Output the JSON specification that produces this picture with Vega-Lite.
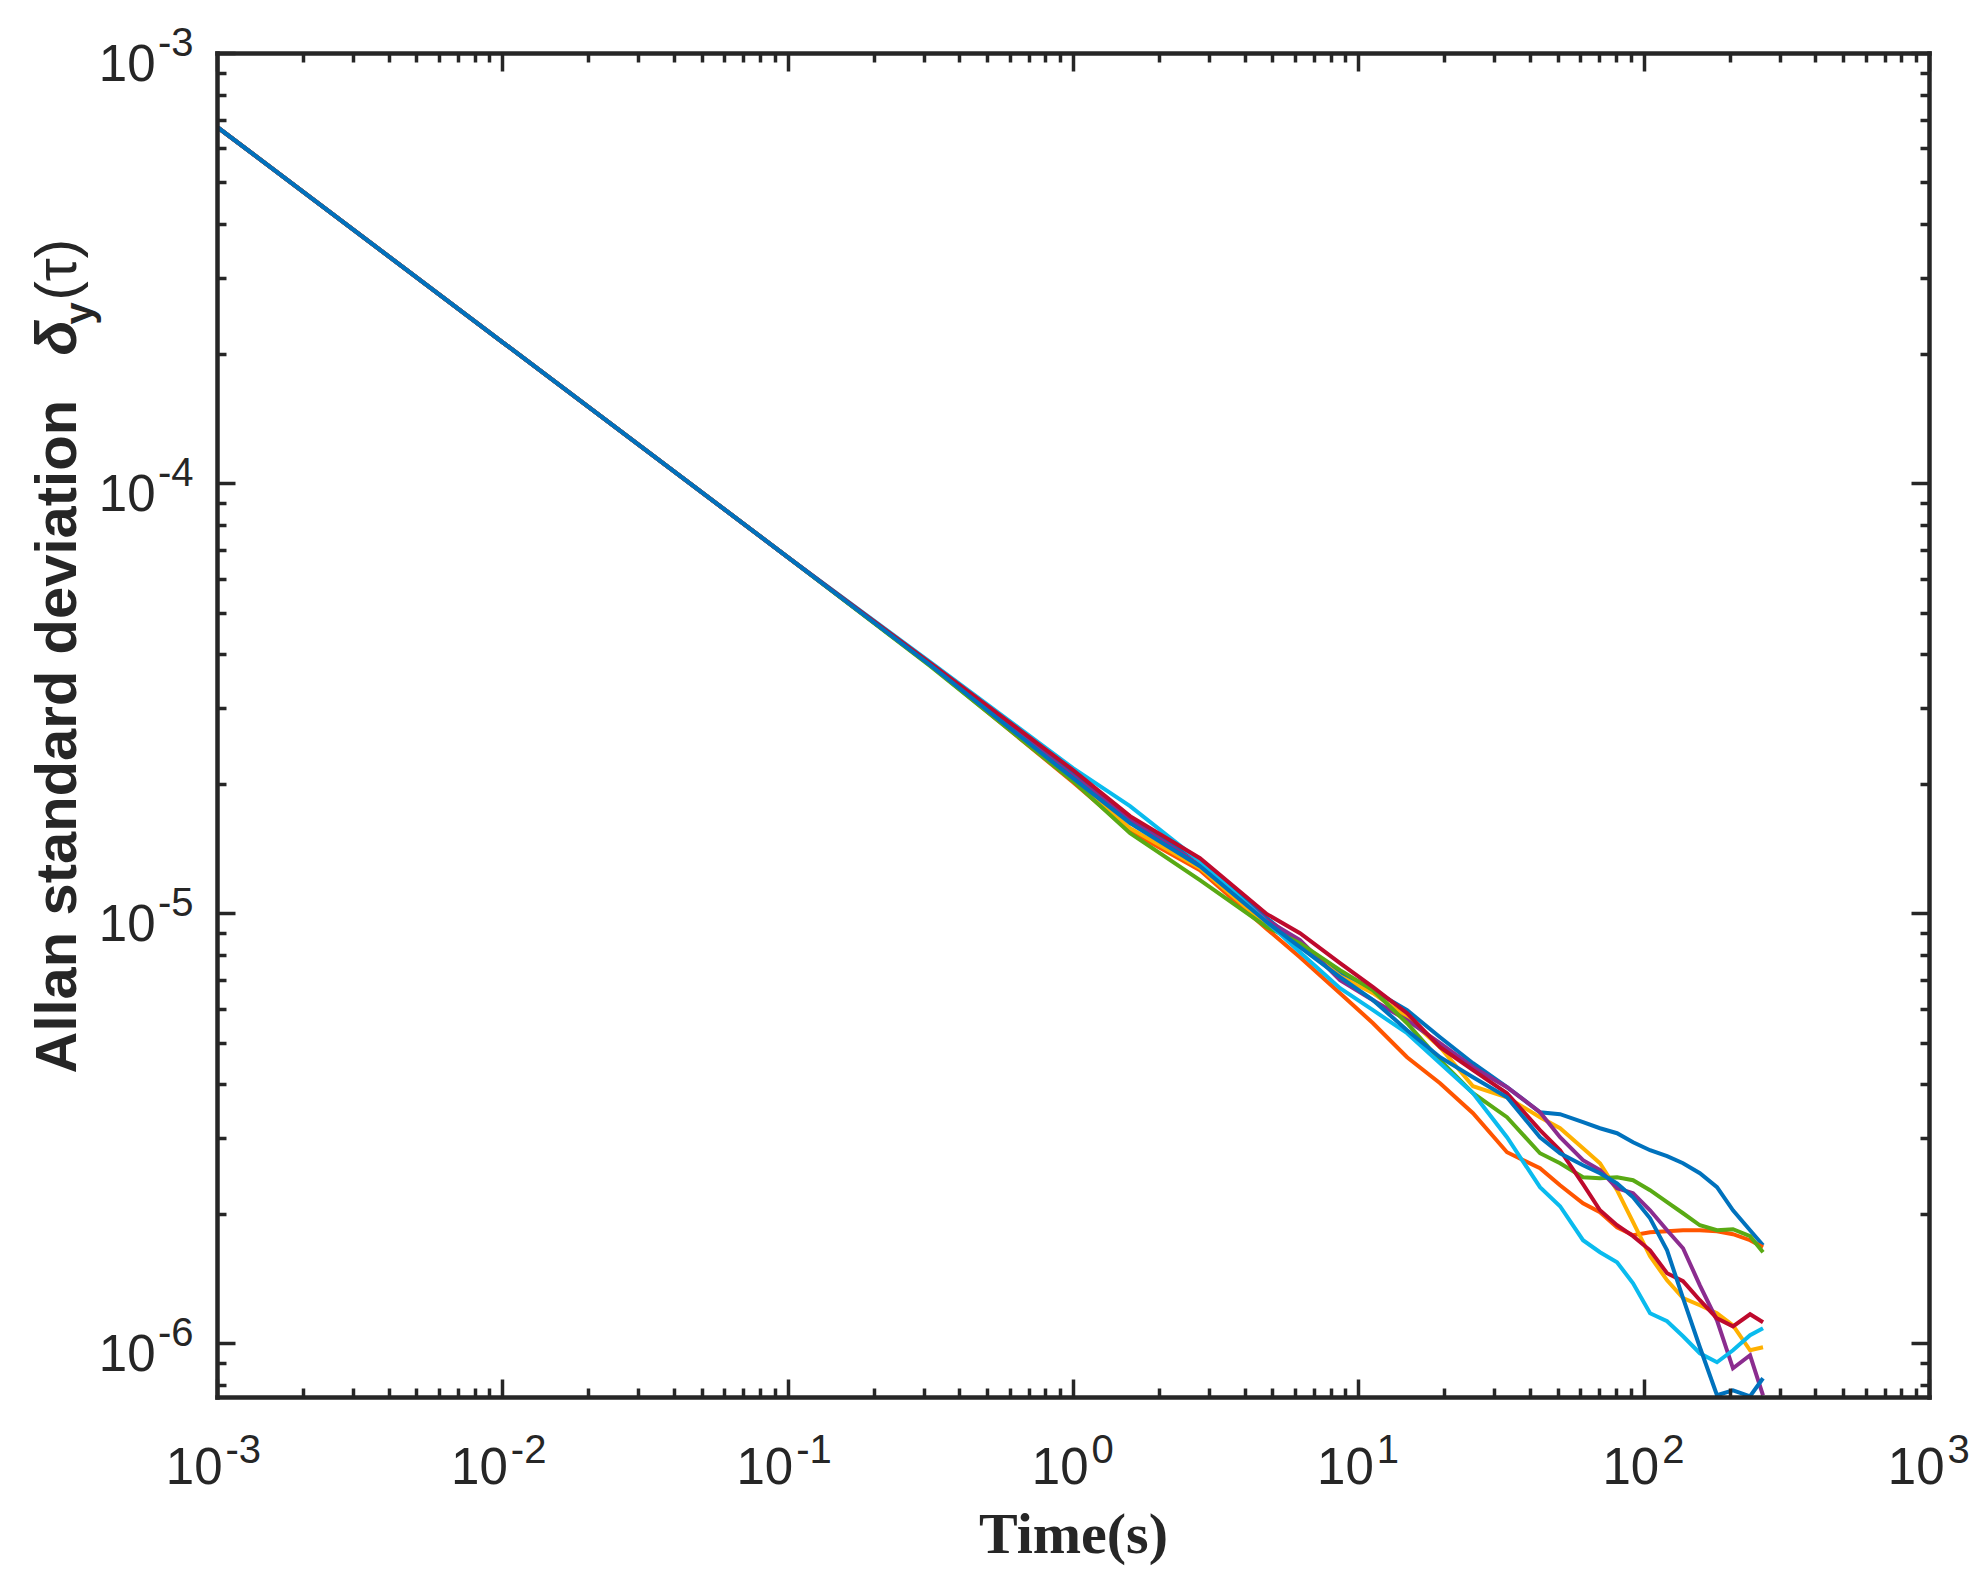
{
  "$schema": "https://vega.github.io/schema/vega-lite/v6.json",
  "description": "Allan standard deviation versus averaging time, eight runs.",
  "autosize": {"type": "none"},
  "padding": {"left": 217, "top": 53, "right": 58, "bottom": 194},
  "width": 1712,
  "height": 1344,
  "background": "white",
  "resolve": {"axis": {"x": "independent", "y": "independent"}},
  "layer": [
    {
      "data": {"values": [
        {"s":"s1","t":0.001,"v":6.73e-4},{"s":"s1","t":0.01,"v":2.128e-4},{"s":"s1","t":0.1,"v":6.73e-5},{"s":"s1","t":0.3162,"v":3.774e-5},{"s":"s1","t":1,"v":2.105e-5},{"s":"s1","t":1.585,"v":1.654e-5},{"s":"s1","t":2.786,"v":1.328e-5},{"s":"s1","t":4.786,"v":9.736e-6},{"s":"s1","t":6.246,"v":8.425e-6},{"s":"s1","t":8.627,"v":7.291e-6},{"s":"s1","t":11.26,"v":6.621e-6},{"s":"s1","t":14.82,"v":5.949e-6},{"s":"s1","t":19.34,"v":5.148e-6},{"s":"s1","t":25.23,"v":4.479e-6},{"s":"s1","t":33.19,"v":3.939e-6},{"s":"s1","t":43.32,"v":3.445e-6},{"s":"s1","t":50.93,"v":3.409e-6},{"s":"s1","t":61.3,"v":3.266e-6},{"s":"s1","t":70.3,"v":3.162e-6},{"s":"s1","t":80.66,"v":3.079e-6},{"s":"s1","t":91.8,"v":2.934e-6},{"s":"s1","t":105.3,"v":2.811e-6},{"s":"s1","t":120.8,"v":2.722e-6},{"s":"s1","t":137.4,"v":2.622e-6},{"s":"s1","t":157.4,"v":2.485e-6},{"s":"s1","t":180.7,"v":2.306e-6},{"s":"s1","t":205.6,"v":2.038e-6},{"s":"s1","t":236,"v":1.832e-6},{"s":"s1","t":262,"v":1.69e-6},
        {"s":"s2","t":0.001,"v":6.73e-4},{"s":"s2","t":0.01,"v":2.128e-4},{"s":"s2","t":0.1,"v":6.73e-5},{"s":"s2","t":0.3162,"v":3.774e-5},{"s":"s2","t":1,"v":2.017e-5},{"s":"s2","t":1.585,"v":1.551e-5},{"s":"s2","t":2.786,"v":1.259e-5},{"s":"s2","t":4.786,"v":9.18e-6},{"s":"s2","t":6.246,"v":7.901e-6},{"s":"s2","t":8.627,"v":6.515e-6},{"s":"s2","t":11.26,"v":5.548e-6},{"s":"s2","t":14.82,"v":4.625e-6},{"s":"s2","t":19.34,"v":4.024e-6},{"s":"s2","t":25.23,"v":3.427e-6},{"s":"s2","t":33.19,"v":2.781e-6},{"s":"s2","t":43.32,"v":2.553e-6},{"s":"s2","t":50.93,"v":2.33e-6},{"s":"s2","t":61.3,"v":2.116e-6},{"s":"s2","t":70.3,"v":2.017e-6},{"s":"s2","t":80.66,"v":1.861e-6},{"s":"s2","t":91.8,"v":1.783e-6},{"s":"s2","t":105.3,"v":1.812e-6},{"s":"s2","t":120.8,"v":1.822e-6},{"s":"s2","t":137.4,"v":1.832e-6},{"s":"s2","t":157.4,"v":1.832e-6},{"s":"s2","t":180.7,"v":1.822e-6},{"s":"s2","t":205.6,"v":1.793e-6},{"s":"s2","t":236,"v":1.736e-6},{"s":"s2","t":262,"v":1.672e-6},
        {"s":"s3","t":0.001,"v":6.73e-4},{"s":"s3","t":0.01,"v":2.128e-4},{"s":"s3","t":0.1,"v":6.73e-5},{"s":"s3","t":0.3162,"v":3.794e-5},{"s":"s3","t":1,"v":2.049e-5},{"s":"s3","t":1.585,"v":1.576e-5},{"s":"s3","t":2.786,"v":1.273e-5},{"s":"s3","t":4.786,"v":9.378e-6},{"s":"s3","t":6.246,"v":8.425e-6},{"s":"s3","t":8.627,"v":7.137e-6},{"s":"s3","t":11.26,"v":6.515e-6},{"s":"s3","t":14.82,"v":5.73e-6},{"s":"s3","t":19.34,"v":4.879e-6},{"s":"s3","t":25.23,"v":3.96e-6},{"s":"s3","t":33.19,"v":3.733e-6},{"s":"s3","t":43.32,"v":3.354e-6},{"s":"s3","t":50.93,"v":3.162e-6},{"s":"s3","t":61.3,"v":2.841e-6},{"s":"s3","t":70.3,"v":2.622e-6},{"s":"s3","t":80.66,"v":2.269e-6},{"s":"s3","t":91.8,"v":1.912e-6},{"s":"s3","t":105.3,"v":1.593e-6},{"s":"s3","t":120.8,"v":1.401e-6},{"s":"s3","t":137.4,"v":1.273e-6},{"s":"s3","t":157.4,"v":1.226e-6},{"s":"s3","t":180.7,"v":1.174e-6},{"s":"s3","t":205.6,"v":1.101e-6},{"s":"s3","t":236,"v":9.632e-7},{"s":"s3","t":262,"v":9.788e-7},
        {"s":"s4","t":0.001,"v":6.73e-4},{"s":"s4","t":0.01,"v":2.128e-4},{"s":"s4","t":0.1,"v":6.73e-5},{"s":"s4","t":0.3162,"v":3.774e-5},{"s":"s4","t":1,"v":2.083e-5},{"s":"s4","t":1.585,"v":1.645e-5},{"s":"s4","t":2.786,"v":1.293e-5},{"s":"s4","t":4.786,"v":9.632e-6},{"s":"s4","t":6.246,"v":8.654e-6},{"s":"s4","t":8.627,"v":6.985e-6},{"s":"s4","t":11.26,"v":6.276e-6},{"s":"s4","t":14.82,"v":5.638e-6},{"s":"s4","t":19.34,"v":4.985e-6},{"s":"s4","t":25.23,"v":4.384e-6},{"s":"s4","t":33.19,"v":3.939e-6},{"s":"s4","t":43.32,"v":3.445e-6},{"s":"s4","t":50.93,"v":3.013e-6},{"s":"s4","t":61.3,"v":2.664e-6},{"s":"s4","t":70.3,"v":2.526e-6},{"s":"s4","t":80.66,"v":2.294e-6},{"s":"s4","t":91.8,"v":2.233e-6},{"s":"s4","t":105.3,"v":2.038e-6},{"s":"s4","t":120.8,"v":1.832e-6},{"s":"s4","t":137.4,"v":1.663e-6},{"s":"s4","t":157.4,"v":1.364e-6},{"s":"s4","t":180.7,"v":1.131e-6},{"s":"s4","t":205.6,"v":8.745e-7},{"s":"s4","t":236,"v":9.378e-7},{"s":"s4","t":262,"v":7.57e-7},
        {"s":"s5","t":0.001,"v":6.73e-4},{"s":"s5","t":0.01,"v":2.128e-4},{"s":"s5","t":0.1,"v":6.73e-5},{"s":"s5","t":0.3162,"v":3.754e-5},{"s":"s5","t":1,"v":2.028e-5},{"s":"s5","t":1.585,"v":1.535e-5},{"s":"s5","t":2.786,"v":1.193e-5},{"s":"s5","t":4.786,"v":9.278e-6},{"s":"s5","t":6.246,"v":8.516e-6},{"s":"s5","t":8.627,"v":7.37e-6},{"s":"s5","t":11.26,"v":6.621e-6},{"s":"s5","t":14.82,"v":5.548e-6},{"s":"s5","t":19.34,"v":4.551e-6},{"s":"s5","t":25.23,"v":3.814e-6},{"s":"s5","t":33.19,"v":3.354e-6},{"s":"s5","t":43.32,"v":2.766e-6},{"s":"s5","t":50.93,"v":2.622e-6},{"s":"s5","t":61.3,"v":2.433e-6},{"s":"s5","t":70.3,"v":2.42e-6},{"s":"s5","t":80.66,"v":2.433e-6},{"s":"s5","t":91.8,"v":2.394e-6},{"s":"s5","t":105.3,"v":2.269e-6},{"s":"s5","t":120.8,"v":2.128e-6},{"s":"s5","t":137.4,"v":2.006e-6},{"s":"s5","t":157.4,"v":1.881e-6},{"s":"s5","t":180.7,"v":1.832e-6},{"s":"s5","t":205.6,"v":1.841e-6},{"s":"s5","t":236,"v":1.774e-6},{"s":"s5","t":262,"v":1.628e-6},
        {"s":"s6","t":0.001,"v":6.73e-4},{"s":"s6","t":0.01,"v":2.128e-4},{"s":"s6","t":0.1,"v":6.73e-5},{"s":"s6","t":0.3162,"v":3.834e-5},{"s":"s6","t":1,"v":2.174e-5},{"s":"s6","t":1.585,"v":1.774e-5},{"s":"s6","t":2.786,"v":1.321e-5},{"s":"s6","t":4.786,"v":9.53e-6},{"s":"s6","t":6.246,"v":8.115e-6},{"s":"s6","t":8.627,"v":6.692e-6},{"s":"s6","t":11.26,"v":5.949e-6},{"s":"s6","t":14.82,"v":5.259e-6},{"s":"s6","t":19.34,"v":4.479e-6},{"s":"s6","t":25.23,"v":3.814e-6},{"s":"s6","t":33.19,"v":3.013e-6},{"s":"s6","t":43.32,"v":2.306e-6},{"s":"s6","t":50.93,"v":2.083e-6},{"s":"s6","t":61.3,"v":1.736e-6},{"s":"s6","t":70.3,"v":1.628e-6},{"s":"s6","t":80.66,"v":1.543e-6},{"s":"s6","t":91.8,"v":1.379e-6},{"s":"s6","t":105.3,"v":1.174e-6},{"s":"s6","t":120.8,"v":1.125e-6},{"s":"s6","t":137.4,"v":1.038e-6},{"s":"s6","t":157.4,"v":9.479e-7},{"s":"s6","t":180.7,"v":9.033e-7},{"s":"s6","t":205.6,"v":9.632e-7},{"s":"s6","t":236,"v":1.044e-6},{"s":"s6","t":262,"v":1.084e-6},
        {"s":"s7","t":0.001,"v":6.73e-4},{"s":"s7","t":0.01,"v":2.128e-4},{"s":"s7","t":0.1,"v":6.73e-5},{"s":"s7","t":0.3162,"v":3.814e-5},{"s":"s7","t":1,"v":2.151e-5},{"s":"s7","t":1.585,"v":1.681e-5},{"s":"s7","t":2.786,"v":1.342e-5},{"s":"s7","t":4.786,"v":9.947e-6},{"s":"s7","t":6.246,"v":8.985e-6},{"s":"s7","t":8.627,"v":7.651e-6},{"s":"s7","t":11.26,"v":6.728e-6},{"s":"s7","t":14.82,"v":5.854e-6},{"s":"s7","t":19.34,"v":4.879e-6},{"s":"s7","t":25.23,"v":4.314e-6},{"s":"s7","t":33.19,"v":3.814e-6},{"s":"s7","t":43.32,"v":3.129e-6},{"s":"s7","t":50.93,"v":2.811e-6},{"s":"s7","t":61.3,"v":2.343e-6},{"s":"s7","t":70.3,"v":2.038e-6},{"s":"s7","t":80.66,"v":1.881e-6},{"s":"s7","t":91.8,"v":1.774e-6},{"s":"s7","t":105.3,"v":1.645e-6},{"s":"s7","t":120.8,"v":1.455e-6},{"s":"s7","t":137.4,"v":1.394e-6},{"s":"s7","t":157.4,"v":1.259e-6},{"s":"s7","t":180.7,"v":1.143e-6},{"s":"s7","t":205.6,"v":1.095e-6},{"s":"s7","t":236,"v":1.168e-6},{"s":"s7","t":262,"v":1.119e-6},
        {"s":"s8","t":0.001,"v":6.73e-4},{"s":"s8","t":0.01,"v":2.128e-4},{"s":"s8","t":0.1,"v":6.73e-5},{"s":"s8","t":0.3162,"v":3.774e-5},{"s":"s8","t":1,"v":2.06e-5},{"s":"s8","t":1.585,"v":1.619e-5},{"s":"s8","t":2.786,"v":1.286e-5},{"s":"s8","t":4.786,"v":9.53e-6},{"s":"s8","t":6.246,"v":8.335e-6},{"s":"s8","t":8.627,"v":7.098e-6},{"s":"s8","t":11.26,"v":6.276e-6},{"s":"s8","t":14.82,"v":5.344e-6},{"s":"s8","t":19.34,"v":4.625e-6},{"s":"s8","t":25.23,"v":4.155e-6},{"s":"s8","t":33.19,"v":3.733e-6},{"s":"s8","t":43.32,"v":3.013e-6},{"s":"s8","t":50.93,"v":2.766e-6},{"s":"s8","t":61.3,"v":2.594e-6},{"s":"s8","t":70.3,"v":2.485e-6},{"s":"s8","t":80.66,"v":2.355e-6},{"s":"s8","t":91.8,"v":2.185e-6},{"s":"s8","t":105.3,"v":1.953e-6},{"s":"s8","t":120.8,"v":1.645e-6},{"s":"s8","t":137.4,"v":1.273e-6},{"s":"s8","t":157.4,"v":9.788e-7},{"s":"s8","t":180.7,"v":7.57e-7},{"s":"s8","t":205.6,"v":7.776e-7},{"s":"s8","t":236,"v":7.529e-7},{"s":"s8","t":262,"v":8.292e-7}
      ]},
      "mark": {"type": "line", "strokeWidth": 4, "clip": true},
      "encoding": {
        "x": {
          "field": "t", "type": "quantitative",
          "scale": {"type": "log", "domain": [0.001, 1000], "nice": false},
          "axis": {"orient": "bottom", "values": [0.001, 0.01, 0.1, 1, 10, 100, 1000], "tickSize": -18, "labels": false, "domain": true, "domainCap": "square", "title": null, "zindex": 1}
        },
        "y": {
          "field": "v", "type": "quantitative",
          "scale": {"type": "log", "domain": [7.5e-7, 0.001], "nice": false},
          "axis": {"orient": "left", "values": [1e-6, 1e-5, 1e-4, 1e-3], "tickSize": -18, "labels": false, "domain": true, "domainCap": "square", "zindex": 1,
            "title": "Allan standard deviation", "titleFontSize": 58, "titleFontWeight": "bold", "titleAngle": 270, "titleX": -142, "titleY": 1020, "titleAlign": "left", "titleBaseline": "alphabetic"}
        },
        "color": {
          "field": "s", "type": "nominal", "legend": null,
          "scale": {"domain": ["s1", "s2", "s3", "s4", "s5", "s6", "s7", "s8"], "range": ["#0072BD", "#FF5500", "#FFB000", "#8B2C8F", "#59AA14", "#0ABBEE", "#BE0A2D", "#0072BD"]}
        }
      }
    },
    {
      "data": {"values": [{"t": 0.001, "v": 0.001}]},
      "mark": {"type": "point", "opacity": 0},
      "encoding": {
        "x": {
          "field": "t", "type": "quantitative",
          "scale": {"type": "log", "domain": [0.001, 1000], "nice": false},
          "axis": {"orient": "bottom", "values": [0.002, 0.003, 0.004, 0.005, 0.006, 0.007, 0.008, 0.009, 0.02, 0.03, 0.04, 0.05, 0.06, 0.07, 0.08, 0.09, 0.2, 0.3, 0.4, 0.5, 0.6, 0.7, 0.8, 0.9, 2, 3, 4, 5, 6, 7, 8, 9, 20, 30, 40, 50, 60, 70, 80, 90, 200, 300, 400, 500, 600, 700, 800, 900], "tickSize": -9, "labels": false, "domain": false, "title": null, "zindex": 1}
        },
        "y": {
          "field": "v", "type": "quantitative",
          "scale": {"type": "log", "domain": [7.5e-7, 0.001], "nice": false},
          "axis": {"orient": "left", "values": [8e-7, 9e-7, 2e-6, 3e-6, 4e-6, 5e-6, 6e-6, 7e-6, 8e-6, 9e-6, 2e-5, 3e-5, 4e-5, 5e-5, 6e-5, 7e-5, 8e-5, 9e-5, 2e-4, 3e-4, 4e-4, 5e-4, 6e-4, 7e-4, 8e-4, 9e-4], "tickSize": -9, "labels": false, "domain": false, "zindex": 1,
            "title": "δ", "titleFontSize": 58, "titleFontWeight": "bold", "titleFontStyle": "italic", "titleAngle": 270, "titleX": -142, "titleY": 302, "titleAlign": "left", "titleBaseline": "alphabetic"}
        }
      }
    },
    {
      "data": {"values": [{"t": 0.001, "v": 0.001}]},
      "mark": {"type": "point", "opacity": 0},
      "encoding": {
        "x": {
          "field": "t", "type": "quantitative",
          "scale": {"type": "log", "domain": [0.001, 1000], "nice": false},
          "axis": {"orient": "bottom", "values": [0.001, 0.01, 0.1, 1, 10, 100, 1000], "ticks": false, "domain": false, "title": null,
            "labelExpr": "'10'", "labelFontSize": 51, "labelAlign": "right", "labelBaseline": "alphabetic", "labelPadding": 86,
            "labelOffset": {"condition": {"test": "datum.value >= 1", "value": 15}, "value": 5},
            "labelFlush": false, "labelOverlap": false, "labelBound": false}
        },
        "y": {
          "field": "v", "type": "quantitative",
          "scale": {"type": "log", "domain": [7.5e-7, 0.001], "nice": false},
          "axis": {"orient": "left", "values": [1e-6, 1e-5, 1e-4, 1e-3], "ticks": false, "domain": false,
            "labelExpr": "'10'", "labelFontSize": 51, "labelAlign": "right", "labelBaseline": "alphabetic", "labelPadding": 62, "labelOffset": 27,
            "labelFlush": false, "labelOverlap": false, "labelBound": false,
            "title": "y", "titleFontSize": 40, "titleFontWeight": "bold", "titleAngle": 270, "titleX": -125, "titleY": 271, "titleAlign": "left", "titleBaseline": "alphabetic"}
        }
      }
    },
    {
      "data": {"values": [{"t": 0.001, "v": 0.001}]},
      "mark": {"type": "point", "opacity": 0},
      "encoding": {
        "x": {
          "field": "t", "type": "quantitative",
          "scale": {"type": "log", "domain": [0.001, 1000], "nice": false},
          "axis": {"orient": "bottom", "values": [0.001, 0.01, 0.1, 1, 10, 100, 1000], "ticks": false, "domain": false,
            "labelExpr": "'' + round(log(datum.value) / LN10)", "labelFontSize": 40, "labelAlign": "left", "labelBaseline": "alphabetic", "labelPadding": 65,
            "labelOffset": {"condition": {"test": "datum.value >= 1", "value": 18}, "value": 8},
            "labelFlush": false, "labelOverlap": false, "labelBound": false,
            "title": "Time(s)", "titleFont": "Liberation Serif", "titleFontSize": 58, "titleFontWeight": "bold", "titleX": 856, "titleY": 155, "titleAlign": "center", "titleBaseline": "alphabetic"}
        },
        "y": {
          "field": "v", "type": "quantitative",
          "scale": {"type": "log", "domain": [7.5e-7, 0.001], "nice": false},
          "axis": {"orient": "left", "values": [1e-6, 1e-5, 1e-4, 1e-3], "ticks": false, "domain": false,
            "labelExpr": "'' + round(log(datum.value) / LN10)", "labelFontSize": 40, "labelAlign": "right", "labelBaseline": "alphabetic", "labelPadding": 24, "labelOffset": 2,
            "labelFlush": false, "labelOverlap": false, "labelBound": false,
            "title": "(τ)", "titleFontSize": 58, "titleFontWeight": "normal", "titleAngle": 270, "titleX": -142, "titleY": 247, "titleAlign": "left", "titleBaseline": "alphabetic"}
        }
      }
    },
    {
      "data": {"values": [{"t": 0.001, "v": 0.001}]},
      "mark": {"type": "point", "opacity": 0},
      "encoding": {
        "x": {
          "field": "t", "type": "quantitative",
          "scale": {"type": "log", "domain": [0.001, 1000], "nice": false},
          "axis": {"orient": "top", "values": [0.001, 0.01, 0.1, 1, 10, 100, 1000], "tickSize": -18, "labels": false, "domain": true, "domainCap": "square", "title": null, "zindex": 1}
        },
        "y": {
          "field": "v", "type": "quantitative",
          "scale": {"type": "log", "domain": [7.5e-7, 0.001], "nice": false},
          "axis": {"orient": "right", "values": [1e-6, 1e-5, 1e-4, 1e-3], "tickSize": -18, "labels": false, "domain": true, "domainCap": "square", "title": null, "zindex": 1}
        }
      }
    },
    {
      "data": {"values": [{"t": 0.001, "v": 0.001}]},
      "mark": {"type": "point", "opacity": 0},
      "encoding": {
        "x": {
          "field": "t", "type": "quantitative",
          "scale": {"type": "log", "domain": [0.001, 1000], "nice": false},
          "axis": {"orient": "top", "values": [0.002, 0.003, 0.004, 0.005, 0.006, 0.007, 0.008, 0.009, 0.02, 0.03, 0.04, 0.05, 0.06, 0.07, 0.08, 0.09, 0.2, 0.3, 0.4, 0.5, 0.6, 0.7, 0.8, 0.9, 2, 3, 4, 5, 6, 7, 8, 9, 20, 30, 40, 50, 60, 70, 80, 90, 200, 300, 400, 500, 600, 700, 800, 900], "tickSize": -9, "labels": false, "domain": false, "title": null, "zindex": 1}
        },
        "y": {
          "field": "v", "type": "quantitative",
          "scale": {"type": "log", "domain": [7.5e-7, 0.001], "nice": false},
          "axis": {"orient": "right", "values": [8e-7, 9e-7, 2e-6, 3e-6, 4e-6, 5e-6, 6e-6, 7e-6, 8e-6, 9e-6, 2e-5, 3e-5, 4e-5, 5e-5, 6e-5, 7e-5, 8e-5, 9e-5, 2e-4, 3e-4, 4e-4, 5e-4, 6e-4, 7e-4, 8e-4, 9e-4], "tickSize": -9, "labels": false, "domain": false, "title": null, "zindex": 1}
        }
      }
    }
  ],
  "config": {
    "view": {"stroke": null},
    "axis": {
      "grid": false,
      "labelFont": "Liberation Sans",
      "titleFont": "Liberation Sans",
      "labelColor": "#262626",
      "titleColor": "#262626",
      "tickColor": "#262626",
      "domainColor": "#262626",
      "tickWidth": 3.5,
      "domainWidth": 4.5
    }
  }
}
